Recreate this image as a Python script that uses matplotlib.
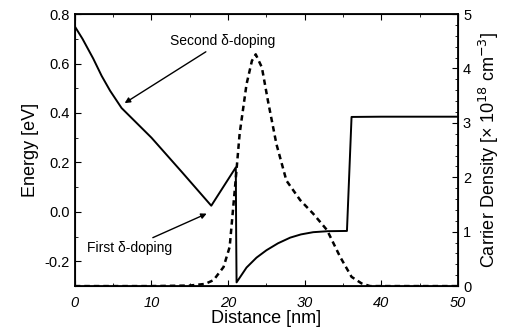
import matplotlib
matplotlib.use("Agg")
import matplotlib.pyplot as plt
from matplotlib.ticker import MultipleLocator

plt.rcParams['font.family'] = ['Liberation Sans', 'DejaVu Sans']

# Conduction band energy (solid line)
energy_x = [0.0, 1.0, 2.4, 3.5, 4.6, 6.1, 10.0, 14.0, 17.8, 21.0, 21.05, 21.1,
            22.4, 23.7, 25.0, 26.5, 28.1, 29.5, 31.1, 33.0, 35.5, 36.1, 40.0, 50.0]
energy_y = [0.75, 0.70, 0.62, 0.55, 0.49, 0.42, 0.30, 0.16, 0.025, 0.18, -0.10, -0.285,
            -0.225, -0.185, -0.155, -0.127, -0.104, -0.091, -0.082, -0.078, -0.077, 0.384, 0.385, 0.385]

# Carrier density (dashed line)
dens_x = [0.0, 10.0, 15.0, 17.0, 18.1, 19.4, 20.2, 20.9, 21.5, 22.4, 23.1, 23.6,
          24.4, 25.2, 26.3, 27.6, 29.4, 31.1, 32.9, 34.6, 36.1, 37.4, 38.5, 50.0]
dens_y = [0.0, 0.0, 0.01, 0.04, 0.11, 0.35, 0.72, 1.82, 2.8, 3.71, 4.14, 4.26,
          4.02, 3.4, 2.61, 1.94, 1.58, 1.33, 1.03, 0.54, 0.17, 0.05, 0.0, 0.0]

fig = plt.figure(figsize=(5.09, 3.35), dpi=100)
ax = fig.add_axes([0.147, 0.146, 0.753, 0.812])
ax.plot(energy_x, energy_y, color='black', lw=1.4)
ax.set_xlim(0, 50)
ax.set_ylim(-0.3, 0.8)
ax.xaxis.set_major_locator(MultipleLocator(10))
ax.xaxis.set_minor_locator(MultipleLocator(5))
ax.yaxis.set_major_locator(MultipleLocator(0.2))
ax.yaxis.set_minor_locator(MultipleLocator(0.1))
ax.yaxis.set_major_formatter(matplotlib.ticker.FormatStrFormatter('%.1f'))
ax.tick_params(which='both', direction='in', top=True, labelsize=10.5)
ax.tick_params(which='major', length=4)
ax.tick_params(which='minor', length=2.5)
ax.tick_params(axis='x', pad=7)
for lab in ax.get_xticklabels():
    lab.set_fontstyle('italic')
ax.set_xlabel('Distance [nm]', fontsize=13, labelpad=0)
ax.set_ylabel('Energy [eV]', fontsize=13, labelpad=4)
for s in ax.spines.values():
    s.set_linewidth(1.3)

ax2 = ax.twinx()
ax2.plot(dens_x, dens_y, color='black', lw=1.8, ls=(0, (2.2, 1.6)))
ax2.set_ylim(0, 5)
ax2.yaxis.set_major_locator(MultipleLocator(1))
ax2.yaxis.set_minor_locator(MultipleLocator(0.2))
ax2.tick_params(which='both', direction='in', labelsize=10.5)
ax2.tick_params(which='major', length=4)
ax2.tick_params(which='minor', length=2.5)
ax2.set_ylabel('Carrier Density [× 10$^{18}$ cm$^{-3}$]', fontsize=13, labelpad=4)

ax.annotate('Second δ-doping', xy=(6.5, 0.44), xytext=(12.4, 0.69),
            fontsize=10, va='center', ha='left',
            arrowprops=dict(arrowstyle='-|>', color='black', lw=1.0,
                            mutation_scale=8, shrinkA=1, shrinkB=0))
ax.annotate('First δ-doping', xy=(17.2, -0.007), xytext=(1.6, -0.146),
            fontsize=10, va='center', ha='left',
            arrowprops=dict(arrowstyle='-|>', color='black', lw=1.0,
                            mutation_scale=8, shrinkA=1, shrinkB=0))

fig.savefig('out.png', dpi=100)
